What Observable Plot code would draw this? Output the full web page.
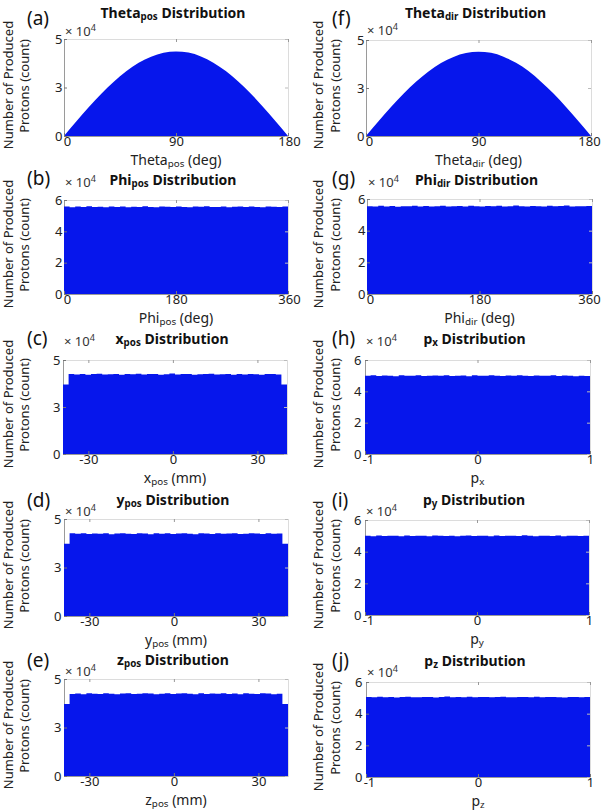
<!DOCTYPE html>
<html>
<head>
<meta charset="utf-8">
<script src="https://cdn.jsdelivr.net/npm/d3@7"></script>
<script src="https://cdn.jsdelivr.net/npm/@observablehq/plot@0.6"></script>
<style>
  body { margin: 0; background: #fff; }
  #root { position: relative; width: 601px; height: 812px; overflow: hidden;
          font-family: "Noto Sans", "DejaVu Sans", sans-serif; color: #111; background:#fff; }
  #root svg { position: absolute; }
  .t { position: absolute; white-space: nowrap; line-height: 1; }
  .title { font-weight: bold; font-size: 14px; transform: translate(-50%, -50%); }
  .letter { font-size: 19px; transform: translate(0, -50%); }
  .xlab { font-size: 14px; transform: translate(-50%, -50%); color: #222; }
  .ylab { font-size: 13px; transform: translate(-50%, -50%) rotate(-90deg); color: #222; }
  .exp { font-size: 13px; transform: translate(0, -50%); color: #333; }
  .t sub { font-size: 70%; vertical-align: -0.25em; line-height: 0; }
  .t sup { font-size: 70%; vertical-align: 0.55em; line-height: 0; }
</style>
</head>
<body>
<div id="root"></div>
<script>
// ---------------- DATA (counts) ----------------
const thetaDeg = [0,10,20,30,40,50,60,70,80,90,100,110,120,130,140,150,160,170,180];
const thetaPosCounts = [0,7600,14900,21800,28000,33400,37700,40900,42900,43600,43000,41000,37800,33500,28100,21900,15000,7600,0];
const thetaDirCounts = [0,7700,15100,22000,28200,33600,38000,41200,43200,43900,43300,41300,38100,33800,28300,22100,15100,7700,0];

const phiPosCounts = [55900,55400,55800,55600,56000,55500,55700,55300,55800,55600,55900,55400,55700,55500,56000,55600,55300,55800,55700,55500,55900,55600,55400,55800,55700,56000,55500,55600,55900,55300,55700,55800,55500,55900,55600,55400,55800,55700,55500,55900];
const phiDirCounts = [55500,55200,55700,55300,55600,55100,55500,55400,55800,55200,55600,55300,55500,55700,55200,55400,55600,55300,55800,55500,55200,55600,55400,55700,55300,55500,55900,55400,55200,55600,55500,55300,55700,55400,55600,55900,55300,55500,55400,55600];

const xposCounts = [37000,42500,42300,42600,42200,42500,42700,42300,42400,42600,42200,42500,42400,42700,42300,42500,42600,42200,42400,42800,42300,42500,42600,42200,42400,42500,42700,42300,42400,42600,42200,42500,42300,42600,42400,42200,42500,42600,42300,37000];
const yposCounts = [37200,42600,42400,42700,42300,42500,42400,42600,42200,42500,42700,42400,42300,42600,42500,42200,42600,42400,42700,42300,42500,42600,42400,42200,42600,42500,42300,42700,42400,42500,42600,42300,42400,42700,42500,42300,42600,42400,42500,37200];
const zposCounts = [37100,42300,42500,42200,42600,42400,42300,42700,42400,42200,42500,42600,42300,42400,42700,42500,42200,42400,42600,42300,42500,42700,42400,42200,42600,42300,42500,42400,42700,42300,42500,42200,42600,42400,42300,42600,42500,42200,42400,37100];

const pxCounts = [49900,50200,49800,50100,50000,49700,50200,50000,49900,50300,49800,50000,50100,49900,50200,49800,50000,50100,49700,50200,50000,49900,50300,50000,49800,50100,49900,50200,50000,49800,50100,50000,49900,50200,49800,50100,50000,49700,50000,49800];
const pyCounts = [50000,49800,50200,49900,50100,50000,49700,50200,49900,50000,50100,49800,50200,50000,49900,50100,49800,50000,50200,49900,50000,50100,49800,50200,49900,50000,50100,49900,50300,50000,49800,50100,50000,49900,50200,49800,50000,50100,49900,50100];
const pzCounts = [50500,50300,50700,50400,50600,50200,50500,50700,50400,50300,50600,50500,50200,50600,50800,50400,50500,50300,50700,50400,50500,50600,50300,50500,50700,50400,50300,50600,50500,50400,50700,50300,50500,50600,50400,50200,50600,50500,50300,50500];

// ranges and tick values
const thetaRange = [0, 180], thetaTicks = [0, 90, 180];
const phiRange = [0, 360], phiTicks = [0, 180, 360];
const posRange = [-39, 40.5], posTicks = [-30, 0, 30];
const pRange = [-1, 1], pTicks = [-1, 0, 1];
const yTicks5 = [0, 25000, 50000], yTicks6 = [0, 20000, 40000, 60000];

// ---------------- LAYOUT ----------------
const BLUE = "#0616ec";
const FONT = '"Noto Sans", "DejaVu Sans", sans-serif';

const panels = [
  {letter:"(a)", col:0, frame:[64,288,39,136],  titleY:13,  letterY:18,  expY:31,  kind:"smooth", xs:thetaDeg, counts:thetaPosCounts, range:thetaRange, xticks:thetaTicks, ymax:50000, yticks:yTicks5,
   firstDx:3, lastDx:1, yPad:2, title:"Theta<sub>pos</sub> Distribution", xlab:"Theta<sub>pos</sub> (deg)"},
  {letter:"(b)", col:0, frame:[64,288,200,294], titleY:180, letterY:178, expY:182, kind:"step", counts:phiPosCounts, range:phiRange, xticks:phiTicks, ymax:60000, yticks:yTicks6,
   firstDx:3, lastDx:1, yPad:2, title:"Phi<sub>pos</sub> Distribution", xlab:"Phi<sub>pos</sub> (deg)"},
  {letter:"(c)", col:0, frame:[63,287,360,454], titleY:339, letterY:338, expY:341, kind:"step", counts:xposCounts, range:posRange, xticks:posTicks, ymax:50000, yticks:yTicks5,
   firstDx:0, lastDx:0, yPad:3, title:"x<sub>pos</sub> Distribution", xlab:"x<sub>pos</sub> (mm)"},
  {letter:"(d)", col:0, frame:[64,288,519,616], titleY:500, letterY:500, expY:511, kind:"step", counts:yposCounts, range:posRange, xticks:posTicks, ymax:50000, yticks:yTicks5,
   firstDx:0, lastDx:0, yPad:3, title:"y<sub>pos</sub> Distribution", xlab:"y<sub>pos</sub> (mm)"},
  {letter:"(e)", col:0, frame:[64,288,679,776], titleY:660, letterY:660, expY:671, kind:"step", counts:zposCounts, range:posRange, xticks:posTicks, ymax:50000, yticks:yTicks5,
   firstDx:0, lastDx:0, yPad:3, title:"z<sub>pos</sub> Distribution", xlab:"z<sub>pos</sub> (mm)"},
  {letter:"(f)", col:1, frame:[366,591,40,136], titleY:13,  letterY:18,  expY:30,  kind:"smooth", xs:thetaDeg, counts:thetaDirCounts, range:thetaRange, xticks:thetaTicks, ymax:50000, yticks:yTicks5,
   firstDx:3, lastDx:-2, yPad:2, title:"Theta<sub>dir</sub> Distribution", xlab:"Theta<sub>dir</sub> (deg)"},
  {letter:"(g)", col:1, frame:[367,592,199,294], titleY:180, letterY:178, expY:182, kind:"step", counts:phiDirCounts, range:phiRange, xticks:phiTicks, ymax:60000, yticks:yTicks6,
   firstDx:3, lastDx:-3, yPad:2, title:"Phi<sub>dir</sub> Distribution", xlab:"Phi<sub>dir</sub> (deg)"},
  {letter:"(h)", col:1, frame:[365,590,360,454], titleY:339, letterY:338, expY:341, kind:"step", counts:pxCounts, range:pRange, xticks:pTicks, ymax:60000, yticks:yTicks6,
   firstDx:3, lastDx:0, yPad:4, title:"p<sub>x</sub> Distribution", xlab:"p<sub>x</sub>"},
  {letter:"(i)", col:1, frame:[365,589,520,615], titleY:500, letterY:500, expY:511, kind:"step", counts:pyCounts, range:pRange, xticks:pTicks, ymax:60000, yticks:yTicks6,
   firstDx:3, lastDx:0, yPad:4, title:"p<sub>y</sub> Distribution", xlab:"p<sub>y</sub>"},
  {letter:"(j)", col:1, frame:[366,590,682,777], titleY:661, letterY:660, expY:672, kind:"step", counts:pzCounts, range:pRange, xticks:pTicks, ymax:60000, yticks:yTicks6,
   firstDx:3, lastDx:0, yPad:4, title:"p<sub>z</sub> Distribution", xlab:"p<sub>z</sub>"}
];

const root = document.getElementById("root");

function stepPoints(counts, lo, hi) {
  const w = (hi - lo) / counts.length;
  const pts = counts.map((c, i) => ({x: lo + i * w, y: c}));
  pts.push({x: hi, y: counts[counts.length - 1]});
  return pts;
}

function addText(cls, html, x, y) {
  const d = document.createElement("div");
  d.className = "t " + cls;
  d.innerHTML = html;
  d.style.left = x + "px";
  d.style.top = y + "px";
  root.appendChild(d);
}

for (const p of panels) {
  const [x0, x1, y0, y1] = p.frame;
  const svgX = p.col === 0 ? 0 : 300;
  const W = p.col === 0 ? 300 : 301;
  const mt = 10, mb = 18;
  const fw = x1 - x0, fh = y1 - y0;
  const H = fh + mt + mb;

  const pts = p.kind === "smooth"
    ? p.xs.map((x, i) => ({x, y: p.counts[i]}))
    : stepPoints(p.counts, p.range[0], p.range[1]);

  const xt = p.xticks;
  const axOpts = {tickSize: 0, tickPadding: 0.5, label: null, tickFormat: d => String(d)};

  const svg = Plot.plot({
    width: W, height: H,
    marginLeft: x0 - svgX, marginRight: svgX + W - x1,
    marginTop: mt, marginBottom: mb,
    x: {domain: p.range},
    y: {domain: [0, p.ymax]},
    style: {fontFamily: FONT, fontSize: "13px", color: "#222", background: "transparent", overflow: "visible"},
    marks: [
      Plot.frame({stroke: "#dcdcdc"}),
      Plot.ruleX([p.range[0]], {stroke: "#9a9a9a"}),
      Plot.ruleY([0], {stroke: "#9a9a9a"}),
      Plot.areaY(pts, {x: "x", y: "y", fill: BLUE, curve: p.kind === "smooth" ? "monotone-x" : "step-after"}),
      Plot.tickX(xt, {x: d => d, insetTop: fh - 3, stroke: "#777"}),
      Plot.tickX(xt, {x: d => d, insetBottom: fh - 3, stroke: "#999"}),
      Plot.tickY(p.yticks, {y: d => d, insetRight: fw - 3, stroke: "#777"}),
      Plot.tickY(p.yticks, {y: d => d, insetLeft: fw - 3, stroke: "#bbb"}),
      Plot.axisX(xt.slice(0, 1), {...axOpts, dx: p.firstDx}),
      Plot.axisX(xt.slice(1, -1), axOpts),
      Plot.axisX(xt.slice(-1), {...axOpts, dx: p.lastDx}),
      Plot.axisY({ticks: p.yticks, tickSize: 0, tickPadding: p.yPad, label: null, tickFormat: d => String(Math.round(d / 1e4))})
    ]
  });
  svg.style.left = svgX + "px";
  svg.style.top = (y0 - mt) + "px";
  root.appendChild(svg);

  const cx = (x0 + x1) / 2;
  const cy = (y0 + y1) / 2;
  addText("title", p.title, cx - 3, p.titleY);
  addText("letter", p.letter, p.col === 0 ? 27 : 332, p.letterY);
  addText("exp", "&times; 10<sup>4</sup>", x0 + 1, p.expY);
  addText("xlab", p.xlab, cx, y1 + 23.5);
  const l1 = p.col === 0 ? 8 : 318, l2 = p.col === 0 ? 24 : 335;
  addText("ylab", "Number of Produced", l1, cy - 3);
  addText("ylab", "Protons (count)", l2, cy - 2);
}
</script>
</body>
</html>
